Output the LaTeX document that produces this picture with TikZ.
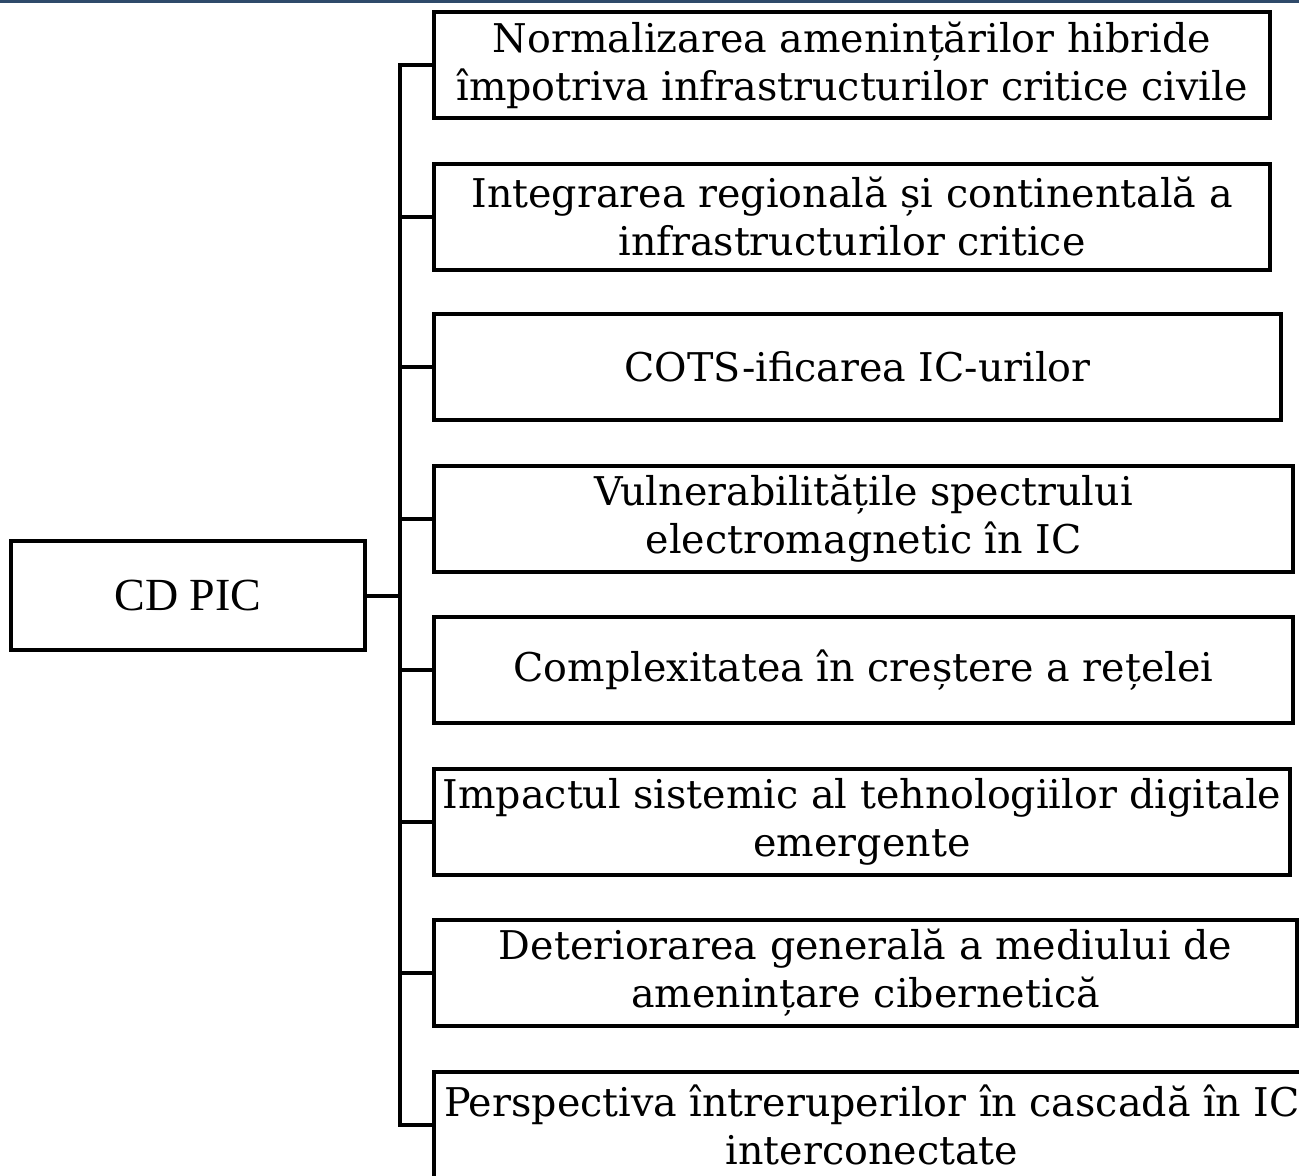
\documentclass[tikz,border=0pt]{standalone}
\usepackage{fontspec}
\setmainfont{DejaVu Serif}
\newfontfamily\timesf{Liberation Serif}
\definecolor{topblue}{HTML}{2F4A6A}
\begin{document}
\begin{tikzpicture}[x=0.5pt,y=-0.5pt, line width=2pt,
  box/.style={draw, line width=2pt, anchor=center, inner sep=0pt, align=center,
    minimum height=53pt, font=\fontsize{19.8}{24}\selectfont},
  conn/.style={draw, line width=2pt}]
\useasboundingbox (0,0) rectangle (1299,1175);
\fill[white] (0,0) rectangle (1299,1175);
\fill[topblue] (0,0) rectangle (1299,3);

\node[box, minimum width=177pt, minimum height=54.5pt, font=\timesf\fontsize{23}{26}\selectfont] (cd) at (188,595.5) {CD PIC};

\node[box, minimum width=418pt] (b1) at (852,65) {Normalizarea amenințărilor hibride\\împotriva infrastructurilor critice civile};
\node[box, minimum width=418pt] (b2) at (852,216.5) {Integrarea regională și continentală a\\infrastructurilor critice};
\node[box, minimum width=423.5pt] (b3) at (857.5,367) {COTS-ificarea IC-urilor};
\node[box, minimum width=429.5pt] (b4) at (863.5,518.5) {Vulnerabilitățile spectrului\\electromagnetic în IC};
\node[box, minimum width=429.5pt] (b5) at (863.5,670) {Complexitatea în creștere a rețelei};
\node[box, minimum width=428pt] (b6) at (862,821.5) {Impactul sistemic al tehnologiilor digitale\\emergente};
\node[box, minimum width=431.5pt] (b7) at (865.5,973) {Deteriorarea generală a mediului de\\amenințare cibernetică};
\node[box, minimum width=438pt] (b8) at (872,1125) {Perspectiva întreruperilor în cascadă în IC\\interconectate};

\coordinate (j) at (400,595.5);
\draw[conn] (cd.east) -- (j);
\foreach \b in {b1,b2,b3,b4,b5,b6,b7,b8}{
  \draw[conn] (\b.west) -| (j);
}
\end{tikzpicture}
\end{document}
